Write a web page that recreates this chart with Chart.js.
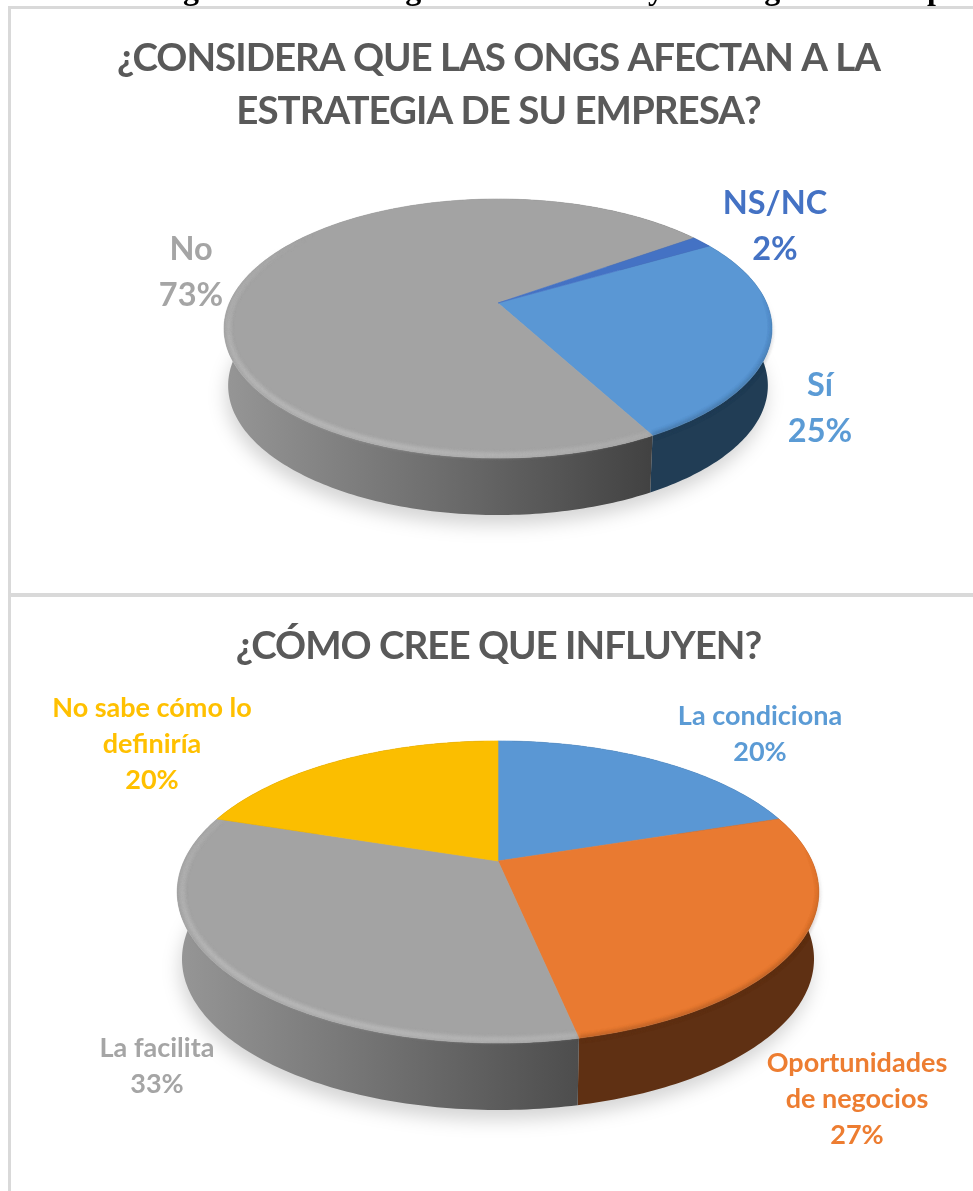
<!DOCTYPE html>
<html><head><meta charset="utf-8">
<script src="https://cdn.jsdelivr.net/npm/chart.js@4/dist/chart.umd.min.js"></script>
<style>
html,body{margin:0;padding:0;background:#fff;overflow:hidden}
#page{position:relative;width:973px;height:1191px;overflow:hidden;background:#fff}
#head{position:absolute;left:-33px;top:-28px;line-height:32px;white-space:nowrap;font-family:"Liberation Serif",serif;font-weight:bold;font-size:32px;color:#000;filter:blur(.4px)}
.line{position:absolute;background:#d9d9d9}
canvas{position:absolute;left:0;filter:blur(.45px)}
</style></head><body>
<div id="page">
<div id="head">durante a las organizaciones no gubernamentales y estrategia de la empresa</div>
<canvas id="c1" width="973" height="593" style="top:9px"></canvas>
<canvas id="c2" width="973" height="593" style="top:598px"></canvas>
<div class="line" style="left:8px;top:6px;width:965px;height:3px"></div>
<div class="line" style="left:8px;top:6px;width:3px;height:1185px"></div>
<div class="line" style="left:8px;top:593px;width:965px;height:4px"></div>
</div>
<script>
const categories1 = ['Sí','No','NS/NC'];
const values1 = [25.5,73,1.5];
const percentLabels1 = ['25%','73%','2%'];
const topColors1 = ['#5a97d4','#a3a3a3','#4472c4'];
const textColors1 = ['#5b9bd5','#a5a5a5','#4472c4'];
const categories2 = ['La condiciona','Oportunidades de negocios','La facilita','No sabe cómo lo definiría'];
const values2 = [20,26.7,33.3,20];
const percentLabels2 = ['20%','27%','33%','20%'];
const topColors2 = ['#5a97d4','#e97a31','#a3a3a3','#fbbe00'];
const textColors2 = ['#5b9bd5','#ed7d31','#a5a5a5','#ffc000'];
const title1 = ['¿CONSIDERA QUE LAS ONGS AFECTAN A LA','ESTRATEGIA DE SU EMPRESA?'];
const title2 = '¿CÓMO CREE QUE INFLUYEN?';

const disc3d = {
  id:'disc3d',
  beforeDraw(chart){ chart.ctx.letterSpacing='-1px'; },
  beforeDatasetDraw(chart,args,o){
    const ctx=chart.ctx, arcs=chart.getDatasetMeta(0).data, cols=chart.data.datasets[0].backgroundColor;
    const P=(t,r=1)=>{const s=r*Math.sin(t),c=r*Math.cos(t),w=1-o.k*s;return [o.ax+o.b*c/w,o.ay+o.a*s/w];};
    const Q=(t)=>{const p=P(t);return [o.ax+(p[0]-o.ax)*o.shrink,p[1]+o.depth];};
    const N=a=>Math.max(8,Math.ceil((a.endAngle-a.startAngle)*60));
    // ground shadow
    ctx.save();ctx.filter='blur(9px)';ctx.fillStyle='rgba(0,0,0,.17)';ctx.beginPath();
    for(let i=0;i<=120;i++){const p=Q(i/120*Math.PI*2);ctx.lineTo(p[0]-2,p[1]+o.shadow);}
    ctx.closePath();ctx.fill();ctx.restore();
    // side walls
    arcs.forEach((a,i)=>{
      const stops=o.sides[i], n=N(a);
      let fill=stops[0];
      if(stops.length>1){const g=ctx.createLinearGradient(o.gx0,0,o.gx1,0);stops.forEach((s,j)=>g.addColorStop(j/(stops.length-1),s));fill=g;}
      ctx.save();ctx.fillStyle=fill;ctx.beginPath();
      for(let j=0;j<=n;j++){const p=P(a.startAngle+(a.endAngle-a.startAngle)*j/n);ctx.lineTo(p[0],p[1]);}
      for(let j=n;j>=0;j--){const p=Q(a.startAngle+(a.endAngle-a.startAngle)*j/n);ctx.lineTo(p[0],p[1]);}
      ctx.closePath();ctx.fill();ctx.restore();
    });
    // top surface
    arcs.forEach((a,i)=>{
      const n=N(a), path=new Path2D();
      path.moveTo(o.ax,o.ay);
      for(let j=0;j<=n;j++){const p=P(a.startAngle+(a.endAngle-a.startAngle)*j/n);path.lineTo(p[0],p[1]);}
      path.closePath();
      ctx.save();ctx.fillStyle=cols[i];ctx.fill(path);ctx.strokeStyle=cols[i];ctx.lineWidth=.6;ctx.stroke(path);
      ctx.restore();
    });
    // bevel along the front rim
    const peak=130*Math.PI/180;
    arcs.forEach((a,i)=>{
      const n=N(a)*2, isGray=o.sides[i].length>1;
      for(let j=0;j<n;j++){
        const t0=a.startAngle+(a.endAngle-a.startAngle)*j/n,t1=a.startAngle+(a.endAngle-a.startAngle)*(j+1)/n,tm=(t0+t1)/2;
        ctx.save();ctx.filter='blur(2px)';
        if(isGray){
          const al=Math.cos(tm-peak); if(al<=0){ctx.restore();continue;}
          ctx.strokeStyle='rgba(222,222,222,'+(.6*al)+')';ctx.lineWidth=4;
          const a0=P(t0,.985),a1=P(t1,.985);ctx.beginPath();ctx.moveTo(a0[0],a0[1]);ctx.lineTo(a1[0],a1[1]);ctx.stroke();
        } else {
          const f=Math.sin(tm); if(f<=-.12){ctx.restore();continue;}
          ctx.strokeStyle=o.sides[i][0];ctx.globalAlpha=.5*Math.min(1,(f+.12)*1.3);ctx.lineWidth=3;
          const a0=P(t0,1),a1=P(t1,1);ctx.beginPath();ctx.moveTo(a0[0],a0[1]);ctx.lineTo(a1[0],a1[1]);ctx.stroke();
        }
        ctx.restore();
      }
    });
    return false;
  },
  afterDraw(chart,args,o){
    const ctx=chart.ctx, d=chart.data;
    o.boxes.forEach((b,i)=>{
      ctx.save();ctx.letterSpacing='0px';ctx.font='bold '+o.size+'px Lato';ctx.fillStyle=o.colors[i];ctx.textAlign='center';ctx.textBaseline='middle';
      const lines=[];let cur='';
      d.labels[i].split(' ').forEach(w=>{const t=cur?cur+' '+w:w;if(ctx.measureText(t).width>b.w&&cur){lines.push(cur);cur=w;}else cur=t;});
      lines.push(cur);lines.push(o.pct[i]);
      lines.forEach((l,k)=>ctx.fillText(l,b.x,b.y+k*o.lh));
      ctx.restore();
    });
  }
};

function build(id,labels,values,colors,title,rotation,titlePad,geom){
  new Chart(document.getElementById(id),{
    type:'pie',
    data:{labels,datasets:[{data:values,backgroundColor:colors,borderWidth:0}]},
    plugins:[disc3d],
    options:{
      responsive:false,animation:false,rotation,
      layout:{padding:{left:24}},
      events:[],
      plugins:{
        legend:{display:false},tooltip:{enabled:false},
        title:{display:true,text:title,color:'#595959',font:{family:'Lato',weight:'bold',size:geom.titleSize,lineHeight:geom.titleLH},padding:titlePad},
        disc3d:geom
      }
    }
  });
}
build('c1',categories1,values1,topColors1,title1,59.8,{top:23,bottom:0},{
  titleSize:38.5,titleLH:1.377,
  ax:498,ay:294,k:.197,a:124.5,b:268.6,depth:57,shrink:.985,shadow:10,gx0:224,gx1:650,
  sides:[['#213d55'],['#969696','#6e6e6e','#424242'],['#2a4475']],
  size:32.5,lh:46,colors:textColors1,pct:percentLabels1,
  boxes:[{x:820,y:377,w:200},{x:191,y:241,w:200},{x:775,y:195,w:200}]
});
build('c2',categories2,values2,topColors2,title2,0,{top:26,bottom:0},{
  titleSize:38.5,titleLH:1.15,
  ax:498,ay:263,k:.205,a:144.7,b:314,depth:67,shrink:.985,shadow:10,gx0:178,gx1:579,
  sides:[['#213d55'],['#5f3013'],['#969696','#727272','#4d4d4d'],['#7a5c00']],
  size:27,lh:36,colors:textColors2,pct:percentLabels2,
  boxes:[{x:760,y:118,w:240},{x:857,y:465,w:200},{x:157,y:450,w:200},{x:152,y:110,w:240}]
});
</script>
</body></html>
